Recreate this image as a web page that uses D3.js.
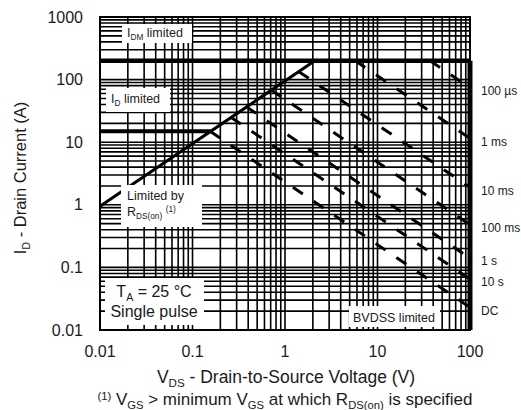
<!DOCTYPE html>
<html>
<head>
<meta charset="utf-8">
<script src="https://cdn.jsdelivr.net/npm/d3@7"></script>
<style>
  body { margin: 0; background: #fff; }
  svg { display: block; }
  text { font-family: Arial, "Liberation Sans", Helvetica, sans-serif; fill: #1a1a1a; }
</style>
</head>
<body>
<svg id="chart" width="521" height="410"></svg>
<script>
// Axis ticks
const xTicks = [0.01, 0.1, 1, 10, 100];
const xTickLabels = ["0.01", "0.1", "1", "10", "100"];
const yTicks = [0.01, 0.1, 1, 10, 100, 1000];
const yTickLabels = ["0.01", "0.1", "1", "10", "100", "1000"];

// Operating-limit boundaries, [VDS (V), ID (A)]
const rdsOnLimit = [[0.01, 0.95], [2.1, 200]];
const idmLimit = [[0.01, 200], [100, 200]];
const idLimit = [[0.01, 15], [0.157, 15]];
const bvdssLimit = [[100, 200], [100, 0.01]];

// Single-pulse limits: start on the boundary, end at VDS = 100 V
const pulseLabels = ["100 µs", "1 ms", "10 ms", "100 ms", "1 s", "10 s", "DC"];
const pulseStart = [[37, 200], [5.75, 200], [1.41, 134], [0.71, 68], [0.38, 37], [0.26, 25], [0.155, 15]];
const pulseEnd = [[100, 74], [100, 11.5], [100, 1.9], [100, 0.48], [100, 0.14], [100, 0.065], [100, 0.023]];

const svg = d3.select("#chart");
const x = d3.scaleLog().domain([0.01, 100]).range([100, 470]);
const y = d3.scaleLog().domain([0.01, 1000]).range([330, 17]);

// log grid: 1..9 in every decade
function logGrid(lo, hi) {
  const v = [];
  for (let d = lo; d < hi * 0.999; d *= 10) for (let k = 1; k <= 9; k++) v.push(d * k);
  v.push(hi);
  return v;
}
const gx = logGrid(0.01, 100);
const gy = logGrid(0.01, 1000);

const grid = svg.append("g").attr("stroke", "#000").attr("stroke-width", 1.6);
grid.selectAll("line.v").data(gx).join("line").attr("class", "v")
  .attr("x1", d => x(d)).attr("x2", d => x(d))
  .attr("y1", y(1000)).attr("y2", y(0.01));
grid.selectAll("line.h").data(gy).join("line").attr("class", "h")
  .attr("x1", x(0.01)).attr("x2", x(100))
  .attr("y1", d => y(d)).attr("y2", d => y(d));

const line = d3.line().x(d => x(d[0])).y(d => y(d[1]));

// frame
svg.append("rect").attr("x", x(0.01)).attr("y", y(1000))
  .attr("width", x(100) - x(0.01)).attr("height", y(0.01) - y(1000))
  .attr("fill", "none").attr("stroke", "#000").attr("stroke-width", 2);

// pulse limits (dashed)
const pulses = pulseStart.map((s, i) => ({ label: pulseLabels[i], pts: [s, pulseEnd[i]] }));
svg.append("g").selectAll("path").data(pulses).join("path")
  .attr("d", d => line(d.pts))
  .attr("fill", "none").attr("stroke", "#000")
  .attr("stroke-width", 3).attr("stroke-dasharray", "12,13");

// boundary lines
svg.append("path").attr("d", line(rdsOnLimit)).attr("fill", "none").attr("stroke", "#000").attr("stroke-width", 3);
svg.append("path").attr("d", line(idmLimit)).attr("fill", "none").attr("stroke", "#000").attr("stroke-width", 4.5);
svg.append("path").attr("d", line(idLimit)).attr("fill", "none").attr("stroke", "#000").attr("stroke-width", 4);
svg.append("path").attr("d", line(bvdssLimit)).attr("fill", "none").attr("stroke", "#000").attr("stroke-width", 5);

// annotation boxes
const boxes = [
  { x: 122, y: 24, w: 70, h: 19 },
  { x: 106, y: 88, w: 64, h: 24 },
  { x: 121, y: 185, w: 81, h: 42 },
  { x: 105, y: 278, w: 99, h: 47 },
  { x: 349, y: 306, w: 91, h: 21 }
];
svg.append("g").selectAll("rect").data(boxes).join("rect")
  .attr("x", d => d.x).attr("y", d => d.y).attr("width", d => d.w).attr("height", d => d.h)
  .attr("fill", "#fff");

function richText(g, xPos, yPos, size, parts, anchor) {
  const t = g.append("text").attr("x", xPos).attr("y", yPos)
    .attr("font-size", size).attr("text-anchor", anchor || "start").attr("fill", "#2a2a2a");
  let shift = 0;
  parts.forEach(p => {
    const target = p.sub ? 0.25 * size : p.sup ? -0.3 * size : 0;
    t.append("tspan").attr("dy", target - shift)
      .attr("font-size", (p.sub || p.sup) ? size * 0.66 : size).text(p.t);
    shift = target;
  });
  return t;
}
const ann = svg.append("g");
richText(ann, 127, 37, 12.5, [{ t: "I" }, { t: "DM", sub: true }, { t: " limited" }]);
richText(ann, 111, 103, 12.5, [{ t: "I" }, { t: "D", sub: true }, { t: " limited" }]);
richText(ann, 127, 200, 12.5, [{ t: "Limited by" }]);
richText(ann, 127, 216, 12.5, [{ t: "R" }, { t: "DS(on)", sub: true }, { t: " " }, { t: "(1)", sup: true }]);
richText(ann, 154, 297, 16, [{ t: "T" }, { t: "A", sub: true }, { t: " = 25 °C" }], "middle");
richText(ann, 154, 317, 16, [{ t: "Single pulse" }], "middle");
richText(ann, 353, 322, 12.5, [{ t: "BVDSS limited" }]);

// pulse labels at the right edge
svg.append("g").selectAll("text").data(pulses).join("text")
  .attr("x", 481).attr("y", d => y(d.pts[1][1]) + 3)
  .attr("dy", "0.35em").attr("font-size", 12)
  .text(d => d.label);

// tick labels
svg.append("g").selectAll("text").data(xTicks).join("text")
  .attr("x", d => x(d)).attr("y", 357).attr("text-anchor", "middle")
  .attr("font-size", 16).text((d, i) => xTickLabels[i]);
svg.append("g").selectAll("text").data(yTicks).join("text")
  .attr("x", 83).attr("y", d => y(d)).attr("dy", "0.35em").attr("text-anchor", "end")
  .attr("font-size", 16).text((d, i) => yTickLabels[i]);

// axis titles
richText(svg, 286, 383, 17.5, [{ t: "V" }, { t: "DS", sub: true }, { t: " - Drain-to-Source Voltage (V)" }], "middle");
richText(svg, 285, 405, 17, [{ t: "(1)", sup: true }, { t: " V" }, { t: "GS", sub: true }, { t: " > minimum V" }, { t: "GS", sub: true }, { t: " at which R" }, { t: "DS(on)", sub: true }, { t: " is specified" }], "middle");
const yt = svg.append("g").attr("transform", "translate(26,178) rotate(-90)");
richText(yt, 0, 0, 16.5, [{ t: "I" }, { t: "D", sub: true }, { t: " - Drain Current (A)" }], "middle");
</script>
</body>
</html>
